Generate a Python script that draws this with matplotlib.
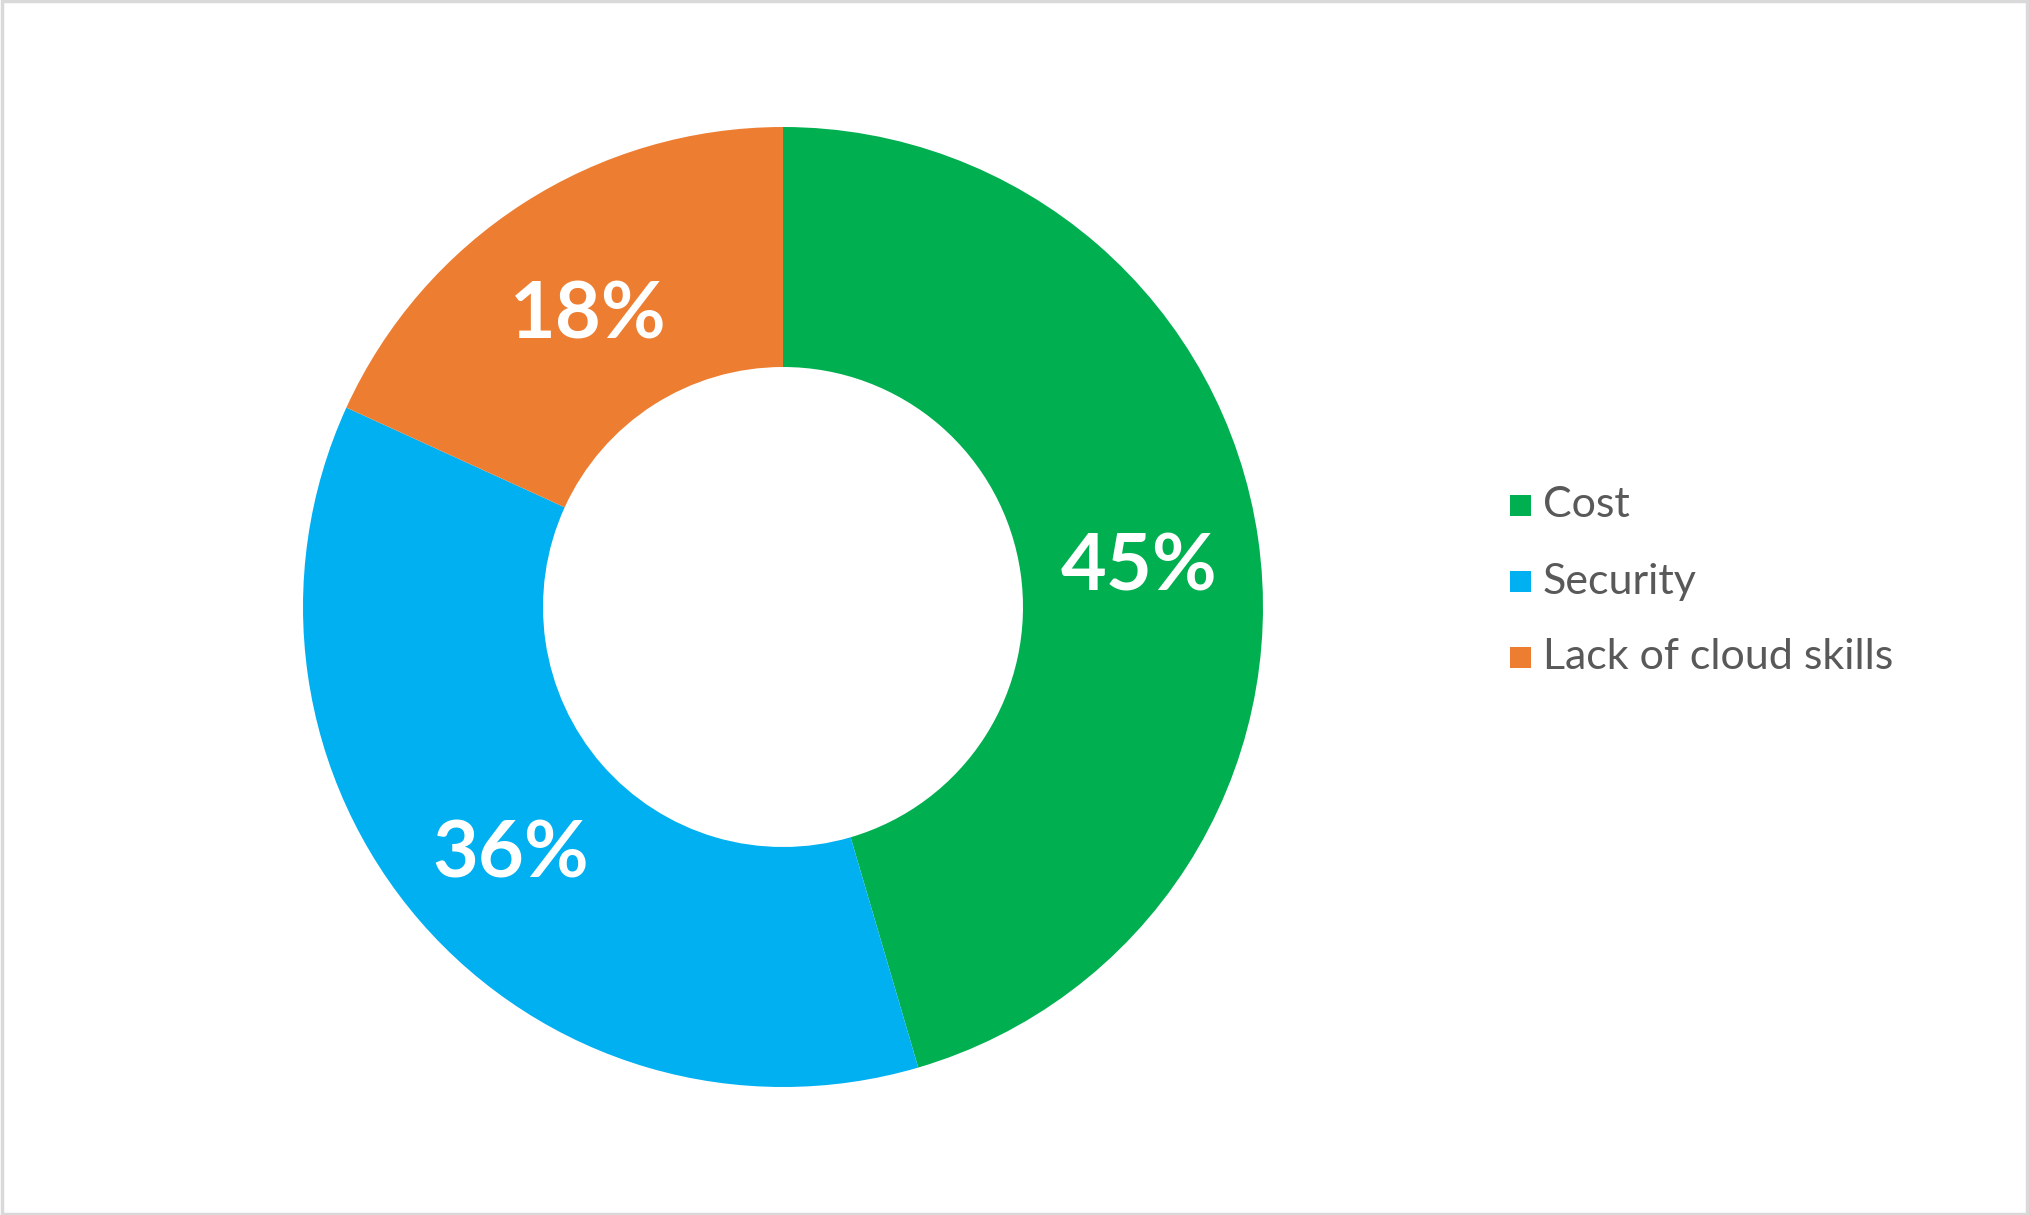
import matplotlib
matplotlib.use("Agg")
import matplotlib.pyplot as plt
from matplotlib.patches import Rectangle
from matplotlib.transforms import offset_copy

categories = ["Cost", "Security", "Lack of cloud skills"]
values = [45, 36, 18]
colors = ["#00B050", "#00B0F0", "#ED7D31"]

W, H = 2029, 1215
fig = plt.figure(figsize=(W / 100, H / 100), dpi=100)
fig.patch.set_facecolor("white")

# donut axes: center (783,607) px, radius 480 px
cx, cy, r = 783, 607, 480
ax = fig.add_axes([(cx - r) / W, (H - cy - r) / H, 2 * r / W, 2 * r / H])
total = sum(values)
wedges, texts, autotexts = ax.pie(
    values, colors=colors, startangle=90, counterclock=False,
    radius=1, wedgeprops=dict(width=0.5, linewidth=0),
    autopct=lambda p: f"{round(p * total / 100)}%", pctdistance=0.75,
    textprops=dict(color="white", fontsize=57, fontweight="bold", family="Lato"),
)
for t in autotexts:
    t.set_transform(offset_copy(ax.transData, fig=fig, x=0, y=-9, units="points"))
ax.set_xlim(-1, 1)
ax.set_ylim(-1, 1)
ax.set_aspect("equal")
ax.axis("off")

# legend drawn manually
ys = [505, 582, 657]
for cat, col, y in zip(categories, colors, ys):
    s = 21
    fig.patches.append(Rectangle(((1510) / W, (H - y - s / 2) / H), s / W, s / H,
                                 transform=fig.transFigure, facecolor=col, edgecolor="none"))
    fig.text(1543 / W, (H - y) / H, cat, ha="left", va="center", fontsize=31,
             color="#595959", family="Lato", fontweight="normal")

# light gray frame
fig.patches.append(Rectangle((0.001, 0.001), 0.998, 0.998, transform=fig.transFigure,
                             facecolor="none", edgecolor="#d9d9d9", linewidth=2.5))

fig.savefig("out.png", dpi=100)
